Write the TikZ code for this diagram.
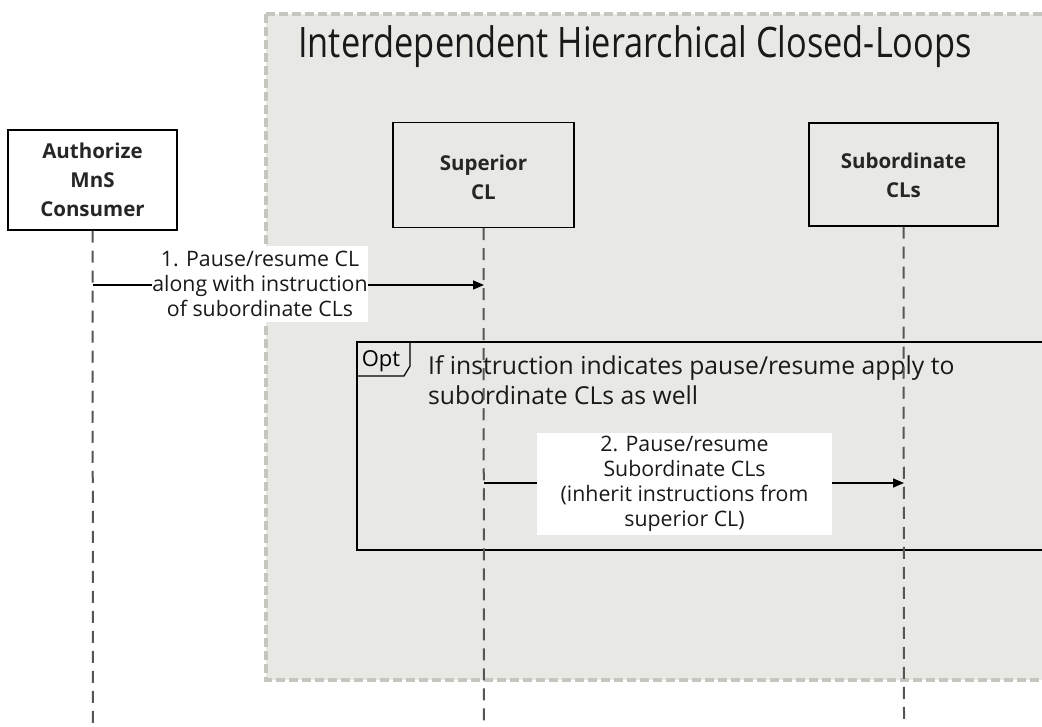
\documentclass[tikz,border=0pt]{standalone}
\usepackage{fontspec}
\setmainfont{Open Sans}
\usetikzlibrary{arrows.meta}
\definecolor{groupfill}{RGB}{232,232,228}
\definecolor{groupline}{RGB}{198,198,190}
\definecolor{lifecol}{RGB}{85,85,85}
\tikzset{
  actorbox/.style={draw=black, line width=1.5pt, fill=none, inner sep=0pt},
  actortext/.style={font=\bfseries\fontsize{20.5}{29}\selectfont, align=center, text=black!85},
  lifeline/.style={draw=lifecol, line width=2pt, dash pattern=on 12pt off 8pt},
  msg/.style={draw=black, line width=1.5pt, -{Triangle[length=11pt,width=9pt]}},
  msglabel/.style={fill=white, align=center, inner sep=0pt, font=\fontsize{21.3}{25}\selectfont, text=black!90},
  framebox/.style={draw=black, line width=1.5pt},
}
\begin{document}
\begin{tikzpicture}[x=1pt,y=-1pt]
\useasboundingbox (0,0) rectangle (1042,727);
\clip (0,0) rectangle (1042,727);
% group
\path[fill=groupfill, draw=groupline, line width=4pt, dash pattern=on 9pt off 4pt] (266,14) rectangle (1080,680);
\node[anchor=west, inner sep=0pt, font=\fontsize{42}{50}\selectfont, text=black!90] (title) at (298,47) {\scalebox{0.818}[1]{Interdependent Hierarchical Closed-Loops}};
% actors
\node[actorbox, minimum width=169pt, minimum height=100pt] (cons) at (92.5,180) {};
\node[actortext] (constext) at (92.5,180) {Authorize\\MnS\\Consumer};
\node[actorbox, minimum width=181pt, minimum height=105pt] (sup) at (483.5,175) {};
\node[actortext] (suptext) at (483.5,177.5) {Superior\\CL};
\node[actorbox, minimum width=189pt, minimum height=103pt] (sub) at (903.5,174.5) {};
\node[actortext] (subtext) at (903.5,175) {Subordinate\\CLs};
% lifelines
\coordinate (consend) at (93,727);
\coordinate (supend) at (484,727);
\coordinate (subend) at (904,720);
% opt frame
\draw[framebox] (357,342) rectangle (1080,550);
\coordinate (tagA) at (357,376);
\coordinate (tagB) at (404,376);
\coordinate (tagC) at (410,366);
\coordinate (tagD) at (410,342);
\draw[framebox, line width=1.2pt] (tagA) -- (tagB) -- (tagC) -- (tagD);
\node[font=\fontsize{22}{26}\selectfont, inner sep=0pt] (opt) at (381,361) {Opt};
\node[anchor=west, align=left, inner sep=0pt, font=\fontsize{24.7}{30}\selectfont, text=black!90] (cond) at (428,380) {If instruction indicates pause/resume apply to\\subordinate CLs as well};
\draw[lifeline] (cons.south) -- (consend);
\draw[lifeline] (sup.south) -- (supend);
\draw[lifeline] (sub.south) -- (subend);
% messages
\coordinate (m1s) at (93,285);
\coordinate (m1e) at (484,285);
\draw[msg] (m1s) -- (m1e);
\node[msglabel, minimum width=204pt, minimum height=76pt] (m1) at (260,284) {1. Pause/resume CL\\along with instruction\\of subordinate CLs};
\coordinate (m2s) at (484,483);
\coordinate (m2e) at (904,483);
\draw[msg] (m2s) -- (m2e);
\node[msglabel, minimum width=295pt, minimum height=102pt] (m2) at (684.5,484) {2. Pause/resume\\Subordinate CLs\\(inherit instructions from\\superior CL)};
\end{tikzpicture}
\end{document}
